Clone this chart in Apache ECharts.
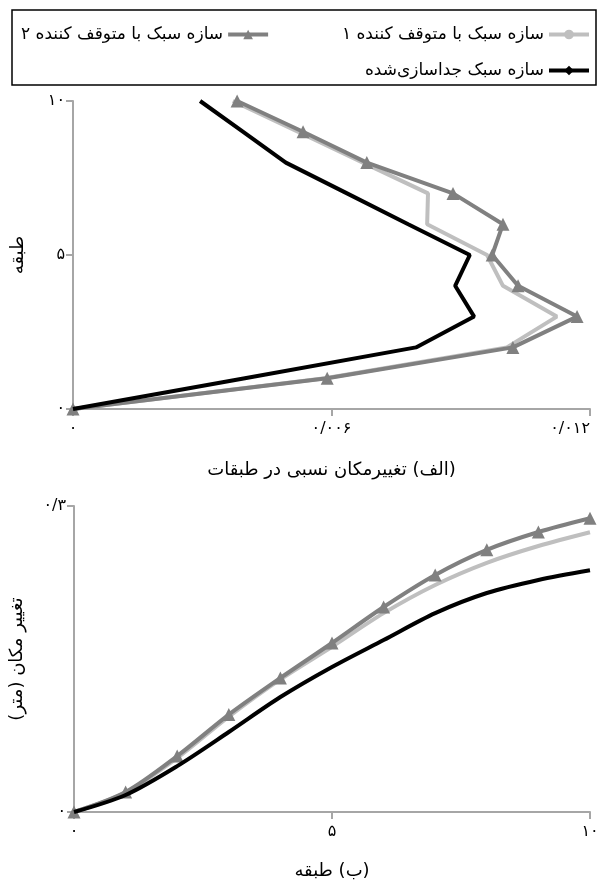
<!DOCTYPE html>
<html>
<head>
<meta charset="utf-8">
<script src="https://cdn.jsdelivr.net/npm/echarts@6/dist/echarts.min.js"></script>
<style>
  html, body { margin: 0; padding: 0; background: #fff; }
  #chart { width: 603px; height: 886px; }
</style>
</head>
<body>
<div id="chart"></div>
<script>
// Floor numbers (0 = base)
const floors = [0, 1, 2, 3, 4, 5, 6, 7, 8, 9, 10];

// (a) inter-storey drift ratio per floor
const driftStopper1 = [0, 0.00585, 0.01007, 0.01123, 0.00998, 0.00961, 0.00822, 0.00824, 0.00673, 0.00522, 0.00371];
const driftStopper2 = [0, 0.00590, 0.01021, 0.01170, 0.01033, 0.00973, 0.00998, 0.00882, 0.00682, 0.00534, 0.00381];
const driftIsolated = [0, 0.00399, 0.00796, 0.00931, 0.00887, 0.00921, 0.00778, 0.00636, 0.00494, 0.00395, 0.00295];

// (b) floor displacement in metres
const dispStopper1 = [0, 0.0190, 0.0530, 0.0935, 0.1300, 0.1620, 0.1950, 0.2226, 0.2443, 0.2608, 0.2743];
const dispStopper2 = [0, 0.0196, 0.0549, 0.0955, 0.1314, 0.1657, 0.2010, 0.2324, 0.2570, 0.2745, 0.2880];
const dispIsolated = [0, 0.0167, 0.0450, 0.0784, 0.1127, 0.1422, 0.1686, 0.1950, 0.2147, 0.2275, 0.2370];

// Series names
const NAME_S1 = 'سازه سبک با متوقف کننده ۱';
const NAME_S2 = 'سازه سبک با متوقف کننده ۲';
const NAME_ISO = 'سازه سبک جداسازی‌شده';

// Axis tick values and titles
const driftTicks = { min: 0, max: 0.012, interval: 0.006 };
const floorTicks = { min: 0, max: 10, interval: 5 };
const dispTicks = { min: 0, max: 0.3, interval: 0.3 };
const titleA = '(الف) تغییرمکان نسبی در طبقات';
const titleB = '(ب) طبقه';
const yNameA = 'طبقه';
const yNameB = 'تغییر مکان (متر)';

const FONT = 'DejaVu Sans';
const AXIS_GRAY = '#a6a6a6';
const C_LIGHT = '#bfbfbf';
const C_DARK = '#808080';
const C_BLACK = '#000000';

// Right-to-left embedding so brackets land on the correct side
const rtl = s => '\u202B' + s + '\u202C';

function toPersian(v) {
  const digits = '۰۱۲۳۴۵۶۷۸۹';
  let s = String(+v.toFixed(6));
  return s.replace(/[0-9]/g, d => digits[+d]).replace('.', '/');
}

const pairs = (xs, ys) => xs.map((x, i) => [x, ys[i]]);

const axisCommon = {
  axisLine: { show: true, lineStyle: { color: AXIS_GRAY, width: 2 } },
  axisTick: { show: true, length: 7, lineStyle: { color: AXIS_GRAY, width: 2 } },
  splitLine: { show: false },
  axisLabel: { color: '#000', fontFamily: FONT, fontSize: 16, formatter: toPersian }
};
const nameStyle = { color: '#000', fontFamily: FONT, fontSize: 18 };

function lineSeries(name, data, color, opts) {
  return Object.assign({
    name, type: 'line', data,
    symbol: 'circle', symbolSize: 8, showSymbol: false,
    lineStyle: { color, width: 4 },
    itemStyle: { color },
    animation: false
  }, opts || {});
}

const chart = echarts.init(document.getElementById('chart'), null, { renderer: 'canvas' });

const legendBase = {
  orient: 'horizontal', align: 'right', itemWidth: 40, itemHeight: 12, itemGap: 6,
  textStyle: { color: '#000', fontFamily: FONT, fontSize: 17 },
  lineStyle: { width: 4 },
  selectedMode: false
};

chart.setOption({
  backgroundColor: '#fff',
  animation: false,
  graphic: [{
    type: 'rect', shape: { x: 12, y: 10, width: 584, height: 75 },
    style: { fill: 'none', stroke: '#000', lineWidth: 1.5 }, z: -1
  }],
  legend: [
    Object.assign({ data: [NAME_S1], right: 7, top: 21 }, legendBase),
    Object.assign({ data: [NAME_S2], left: 16, top: 21 }, legendBase),
    Object.assign({ data: [NAME_ISO], right: 7, top: 57 }, legendBase)
  ],
  grid: [
    { left: 73, right: 13, top: 101, height: 308 },
    { left: 73, right: 13, top: 506, height: 306 }
  ],
  xAxis: [
    Object.assign({}, axisCommon, {
      gridIndex: 0, type: 'value', ...driftTicks,
      name: rtl(titleA), nameLocation: 'middle', nameGap: 52, nameTextStyle: nameStyle,
      axisLabel: Object.assign({}, axisCommon.axisLabel, { margin: 12, alignMaxLabel: 'right' })
    }),
    Object.assign({}, axisCommon, {
      gridIndex: 1, type: 'value', ...floorTicks,
      name: rtl(titleB), nameLocation: 'middle', nameGap: 50, nameTextStyle: nameStyle,
      axisLabel: Object.assign({}, axisCommon.axisLabel, { margin: 12 })
    })
  ],
  yAxis: [
    Object.assign({}, axisCommon, {
      gridIndex: 0, type: 'value', ...floorTicks,
      name: rtl(yNameA), nameLocation: 'middle', nameGap: 46, nameRotate: 90, nameTextStyle: nameStyle,
      axisLabel: Object.assign({}, axisCommon.axisLabel, { margin: 8 })
    }),
    Object.assign({}, axisCommon, {
      gridIndex: 1, type: 'value', ...dispTicks,
      name: rtl(yNameB), nameLocation: 'middle', nameGap: 48, nameRotate: 90, nameTextStyle: nameStyle,
      axisLabel: Object.assign({}, axisCommon.axisLabel, { margin: 8 })
    })
  ],
  series: [
    // (a) drift profiles: x = drift ratio, y = floor
    lineSeries(NAME_S1, pairs(driftStopper1, floors), C_LIGHT, { xAxisIndex: 0, yAxisIndex: 0, z: 2 }),
    lineSeries(NAME_S2, pairs(driftStopper2, floors), C_DARK, {
      xAxisIndex: 0, yAxisIndex: 0, symbol: 'triangle', symbolSize: 13, showSymbol: true, z: 3
    }),
    lineSeries(NAME_ISO, pairs(driftIsolated, floors), C_BLACK, {
      xAxisIndex: 0, yAxisIndex: 0, symbol: 'diamond', symbolSize: 10, z: 4
    }),
    // (b) displacement profiles: x = floor, y = displacement
    lineSeries(NAME_S1, pairs(floors, dispStopper1), C_LIGHT, { xAxisIndex: 1, yAxisIndex: 1, smooth: 0.3, z: 2 }),
    lineSeries(NAME_S2, pairs(floors, dispStopper2), C_DARK, {
      xAxisIndex: 1, yAxisIndex: 1, smooth: 0.3, symbol: 'triangle', symbolSize: 13, showSymbol: true, z: 3
    }),
    lineSeries(NAME_ISO, pairs(floors, dispIsolated), C_BLACK, {
      xAxisIndex: 1, yAxisIndex: 1, smooth: 0.3, symbol: 'diamond', symbolSize: 10, z: 4
    })
  ]
});
</script>
</body>
</html>
